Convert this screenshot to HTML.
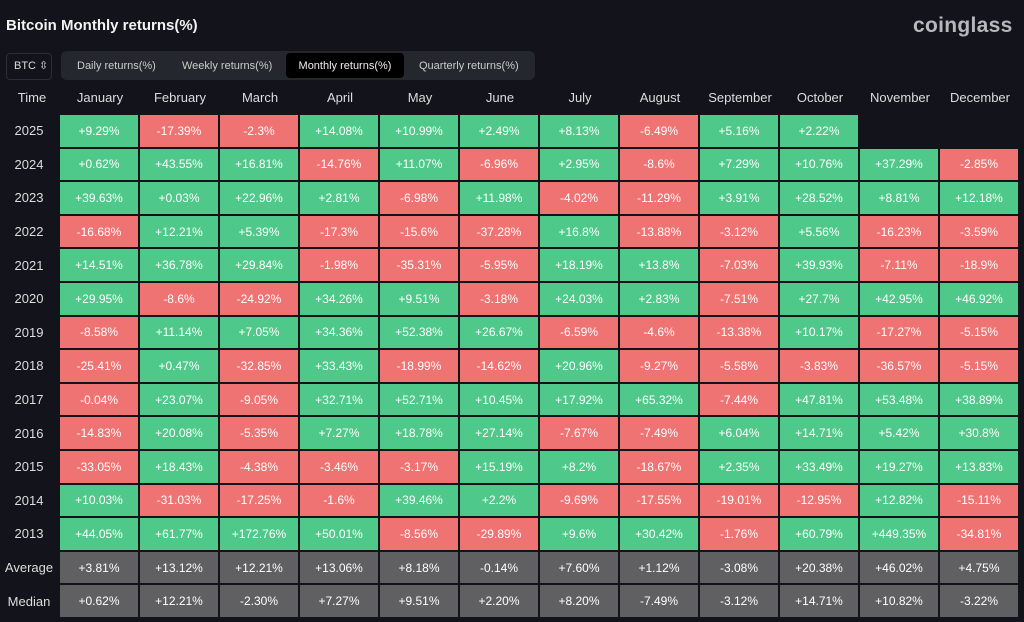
<!DOCTYPE html>
<html><head><meta charset="utf-8"><style>
body{margin:0;width:1024px;height:622px;background:#13141b;font-family:"Liberation Sans",sans-serif;color:#e6e6e6;position:relative;overflow:hidden}
.title{position:absolute;left:6px;top:17px;font-size:15px;font-weight:bold;color:#f2f2f2}
.logo{position:absolute;left:913px;top:14px;font-size:21px;font-weight:bold;color:#b8b8bc;letter-spacing:0.3px}
.btc{position:absolute;left:6px;top:53px;width:44px;height:25px;border:1px solid #2c2e36;border-radius:4px;font-size:11px;line-height:25px;text-indent:7px;color:#ddd}
.tabs{position:absolute;left:61px;top:51px;width:474px;height:29px;background:#25272e;border-radius:6px;font-size:11px;color:#ccc}
.tabs span{position:absolute;top:1px;line-height:29px}
.tabs .act{background:#000;border-radius:4px;top:2px;height:25px;line-height:27px;left:225px;width:118px;text-align:center;color:#eee}
.hdr{position:absolute;top:90px;font-size:13px;color:#ddd;text-align:center;width:80px}
.grid{position:absolute;left:0;top:115px;display:grid;grid-template-columns:58px repeat(12,78px);grid-auto-rows:31.6px;gap:2px;font-size:12px}
.grid div{display:flex;align-items:center;justify-content:center;color:#fff}
.grid .y{color:#ddd;font-size:13px}
.g{background:#4fc98a}.r{background:#f07373}.a{background:#606062}
</style></head><body>
<div class="title">Bitcoin Monthly returns(%)</div>
<div class="logo">coinglass</div>
<div class="btc">BTC ⇳</div>
<div class="tabs"><span style="left:16px">Daily returns(%)</span><span style="left:121px">Weekly returns(%)</span><span class="act">Monthly returns(%)</span><span style="left:358px">Quarterly returns(%)</span></div>
<div class="hdr" style="left:-8px;width:80px">Time</div>
<div class="hdr" style="left:60px">January</div><div class="hdr" style="left:140px">February</div><div class="hdr" style="left:220px">March</div><div class="hdr" style="left:300px">April</div><div class="hdr" style="left:380px">May</div><div class="hdr" style="left:460px">June</div><div class="hdr" style="left:540px">July</div><div class="hdr" style="left:620px">August</div><div class="hdr" style="left:700px">September</div><div class="hdr" style="left:780px">October</div><div class="hdr" style="left:860px">November</div><div class="hdr" style="left:940px">December</div>
<div class="grid">
<div class="y">2025</div><div class="g">+9.29%</div><div class="r">-17.39%</div><div class="r">-2.3%</div><div class="g">+14.08%</div><div class="g">+10.99%</div><div class="g">+2.49%</div><div class="g">+8.13%</div><div class="r">-6.49%</div><div class="g">+5.16%</div><div class="g">+2.22%</div><div></div><div></div>
<div class="y">2024</div><div class="g">+0.62%</div><div class="g">+43.55%</div><div class="g">+16.81%</div><div class="r">-14.76%</div><div class="g">+11.07%</div><div class="r">-6.96%</div><div class="g">+2.95%</div><div class="r">-8.6%</div><div class="g">+7.29%</div><div class="g">+10.76%</div><div class="g">+37.29%</div><div class="r">-2.85%</div>
<div class="y">2023</div><div class="g">+39.63%</div><div class="g">+0.03%</div><div class="g">+22.96%</div><div class="g">+2.81%</div><div class="r">-6.98%</div><div class="g">+11.98%</div><div class="r">-4.02%</div><div class="r">-11.29%</div><div class="g">+3.91%</div><div class="g">+28.52%</div><div class="g">+8.81%</div><div class="g">+12.18%</div>
<div class="y">2022</div><div class="r">-16.68%</div><div class="g">+12.21%</div><div class="g">+5.39%</div><div class="r">-17.3%</div><div class="r">-15.6%</div><div class="r">-37.28%</div><div class="g">+16.8%</div><div class="r">-13.88%</div><div class="r">-3.12%</div><div class="g">+5.56%</div><div class="r">-16.23%</div><div class="r">-3.59%</div>
<div class="y">2021</div><div class="g">+14.51%</div><div class="g">+36.78%</div><div class="g">+29.84%</div><div class="r">-1.98%</div><div class="r">-35.31%</div><div class="r">-5.95%</div><div class="g">+18.19%</div><div class="g">+13.8%</div><div class="r">-7.03%</div><div class="g">+39.93%</div><div class="r">-7.11%</div><div class="r">-18.9%</div>
<div class="y">2020</div><div class="g">+29.95%</div><div class="r">-8.6%</div><div class="r">-24.92%</div><div class="g">+34.26%</div><div class="g">+9.51%</div><div class="r">-3.18%</div><div class="g">+24.03%</div><div class="g">+2.83%</div><div class="r">-7.51%</div><div class="g">+27.7%</div><div class="g">+42.95%</div><div class="g">+46.92%</div>
<div class="y">2019</div><div class="r">-8.58%</div><div class="g">+11.14%</div><div class="g">+7.05%</div><div class="g">+34.36%</div><div class="g">+52.38%</div><div class="g">+26.67%</div><div class="r">-6.59%</div><div class="r">-4.6%</div><div class="r">-13.38%</div><div class="g">+10.17%</div><div class="r">-17.27%</div><div class="r">-5.15%</div>
<div class="y">2018</div><div class="r">-25.41%</div><div class="g">+0.47%</div><div class="r">-32.85%</div><div class="g">+33.43%</div><div class="r">-18.99%</div><div class="r">-14.62%</div><div class="g">+20.96%</div><div class="r">-9.27%</div><div class="r">-5.58%</div><div class="r">-3.83%</div><div class="r">-36.57%</div><div class="r">-5.15%</div>
<div class="y">2017</div><div class="r">-0.04%</div><div class="g">+23.07%</div><div class="r">-9.05%</div><div class="g">+32.71%</div><div class="g">+52.71%</div><div class="g">+10.45%</div><div class="g">+17.92%</div><div class="g">+65.32%</div><div class="r">-7.44%</div><div class="g">+47.81%</div><div class="g">+53.48%</div><div class="g">+38.89%</div>
<div class="y">2016</div><div class="r">-14.83%</div><div class="g">+20.08%</div><div class="r">-5.35%</div><div class="g">+7.27%</div><div class="g">+18.78%</div><div class="g">+27.14%</div><div class="r">-7.67%</div><div class="r">-7.49%</div><div class="g">+6.04%</div><div class="g">+14.71%</div><div class="g">+5.42%</div><div class="g">+30.8%</div>
<div class="y">2015</div><div class="r">-33.05%</div><div class="g">+18.43%</div><div class="r">-4.38%</div><div class="r">-3.46%</div><div class="r">-3.17%</div><div class="g">+15.19%</div><div class="g">+8.2%</div><div class="r">-18.67%</div><div class="g">+2.35%</div><div class="g">+33.49%</div><div class="g">+19.27%</div><div class="g">+13.83%</div>
<div class="y">2014</div><div class="g">+10.03%</div><div class="r">-31.03%</div><div class="r">-17.25%</div><div class="r">-1.6%</div><div class="g">+39.46%</div><div class="g">+2.2%</div><div class="r">-9.69%</div><div class="r">-17.55%</div><div class="r">-19.01%</div><div class="r">-12.95%</div><div class="g">+12.82%</div><div class="r">-15.11%</div>
<div class="y">2013</div><div class="g">+44.05%</div><div class="g">+61.77%</div><div class="g">+172.76%</div><div class="g">+50.01%</div><div class="r">-8.56%</div><div class="r">-29.89%</div><div class="g">+9.6%</div><div class="g">+30.42%</div><div class="r">-1.76%</div><div class="g">+60.79%</div><div class="g">+449.35%</div><div class="r">-34.81%</div>
<div class="y">Average</div><div class="a">+3.81%</div><div class="a">+13.12%</div><div class="a">+12.21%</div><div class="a">+13.06%</div><div class="a">+8.18%</div><div class="a">-0.14%</div><div class="a">+7.60%</div><div class="a">+1.12%</div><div class="a">-3.08%</div><div class="a">+20.38%</div><div class="a">+46.02%</div><div class="a">+4.75%</div>
<div class="y">Median</div><div class="a">+0.62%</div><div class="a">+12.21%</div><div class="a">-2.30%</div><div class="a">+7.27%</div><div class="a">+9.51%</div><div class="a">+2.20%</div><div class="a">+8.20%</div><div class="a">-7.49%</div><div class="a">-3.12%</div><div class="a">+14.71%</div><div class="a">+10.82%</div><div class="a">-3.22%</div>
</div>
</body></html>
